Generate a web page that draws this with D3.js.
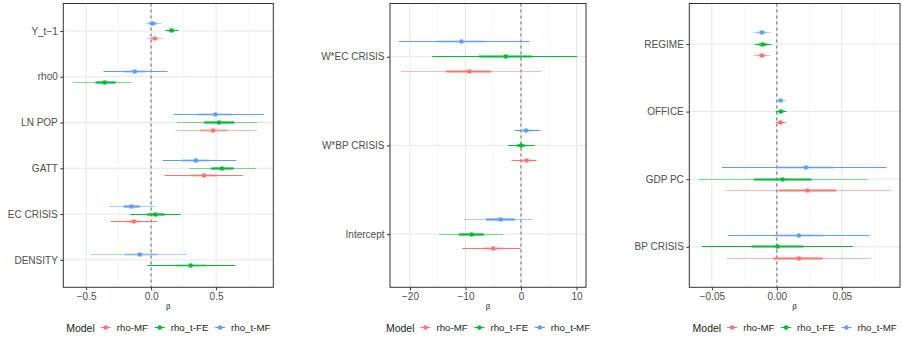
<!DOCTYPE html>
<html>
<head>
<meta charset="utf-8">
<script src="https://cdn.jsdelivr.net/npm/d3@7"></script>
<style>
  html, body { margin: 0; padding: 0; background: #fff; }
  svg { display: block; font-family: "Liberation Sans", Arial, Helvetica, sans-serif; }
</style>
</head>
<body>
<svg id="chart" width="903" height="341"></svg>
<script>
// Models, in legend order
const models = ["rho-MF", "rho_t-FE", "rho_t-MF"];
const modelColors = ["#F8766D", "#00BA38", "#619CFF"];

// Each estimate: [beta, innerLo, innerHi, outerLo, outerHi]; null = term not in that model
const termsA = ["Y_t-1", "rho0", "LN POP", "GATT", "EC CRISIS", "DENSITY"];
const rhoMF_A = [
  [0.028, 0.0, 0.055, -0.03, 0.088],
  null,
  [0.477, 0.375, 0.59, 0.19, 0.815],
  [0.408, 0.305, 0.508, 0.103, 0.705],
  [-0.133, -0.195, -0.072, -0.312, 0.046],
  null
];
const rhoTFE_A = [
  [0.157, 0.135, 0.18, 0.11, 0.21],
  [-0.358, -0.428, -0.272, -0.602, -0.148],
  [0.523, 0.408, 0.641, 0.2, 0.818],
  [0.546, 0.462, 0.634, 0.295, 0.808],
  [0.034, -0.033, 0.103, -0.161, 0.228],
  [0.305, 0.19, 0.426, -0.028, 0.649]
];
const rhoTMF_A = [
  [0.013, -0.015, 0.04, -0.04, 0.08],
  [-0.125, -0.207, -0.043, -0.366, 0.126],
  [0.495, 0.349, 0.623, 0.175, 0.867],
  [0.344, 0.24, 0.446, 0.088, 0.654],
  [-0.151, -0.21, -0.087, -0.323, 0.031],
  [-0.087, -0.202, 0.044, -0.464, 0.28]
];
const ticksA = [-0.5, 0, 0.5];

const termsB = ["W*EC CRISIS", "W*BP CRISIS", "Intercept"];
const rhoMF_B = [
  [-9.3, -13.5, -5.4, -21.7, 3.6],
  [1.0, -0.3, 2.1, -1.7, 2.8],
  [-5.0, -6.7, -3.2, -10.6, -0.1]
];
const rhoTFE_B = [
  [-2.76, -7.6, 2.0, -16.0, 10.1],
  [0.0, -0.8, 0.8, -2.3, 2.5],
  [-8.9, -11.2, -6.7, -14.7, -3.2]
];
const rhoTMF_B = [
  [-10.75, -15.0, -6.5, -22.0, 1.5],
  [0.9, -0.3, 2.1, -1.1, 3.5],
  [-3.7, -6.3, -1.1, -10.2, 2.1]
];
const ticksB = [-20, -10, 0, 10];

const termsC = ["REGIME", "OFFICE", "GDP PC", "BP CRISIS"];
const rhoMF_C = [
  [-0.0115, -0.015, -0.008, -0.018, -0.0051],
  [0.0028, 0.001, 0.0047, -0.0008, 0.0067],
  [0.0236, 0.0015, 0.0456, -0.0397, 0.0874],
  [0.0169, -0.0026, 0.0354, -0.0387, 0.0723]
];
const rhoTFE_C = [
  [-0.0108, -0.014, -0.0075, -0.0169, -0.0041],
  [0.0031, 0.0012, 0.0052, -0.0008, 0.0074],
  [0.0044, -0.0177, 0.0267, -0.06, 0.0695],
  [0.0005, -0.0192, 0.0205, -0.0577, 0.0587]
];
const rhoTMF_C = [
  [-0.0115, -0.015, -0.008, -0.018, -0.0049],
  [0.0028, 0.001, 0.0047, -0.0008, 0.0067],
  [0.0223, 0.0, 0.0441, -0.0423, 0.0844],
  [0.0169, -0.0018, 0.0354, -0.0377, 0.0713]
];
const ticksC = [-0.05, 0, 0.05];

// Segment shading: first letter = outer whisker, second = inner bar (D dark, L light)
const shading = {
  "Y_t-1|rho-MF": "LL", "Y_t-1|rho_t-FE": "DD", "Y_t-1|rho_t-MF": "LD",
  "rho0|rho_t-FE": "LD", "rho0|rho_t-MF": "DL",
  "LN POP|rho-MF": "LL", "LN POP|rho_t-FE": "LD", "LN POP|rho_t-MF": "DL",
  "GATT|rho-MF": "DL", "GATT|rho_t-FE": "LD", "GATT|rho_t-MF": "DL",
  "EC CRISIS|rho-MF": "DL", "EC CRISIS|rho_t-FE": "DD", "EC CRISIS|rho_t-MF": "LD",
  "DENSITY|rho_t-FE": "DL", "DENSITY|rho_t-MF": "LL",
  "W*EC CRISIS|rho-MF": "LD", "W*EC CRISIS|rho_t-FE": "DD", "W*EC CRISIS|rho_t-MF": "DL",
  "W*BP CRISIS|rho-MF": "DL", "W*BP CRISIS|rho_t-FE": "DD", "W*BP CRISIS|rho_t-MF": "DL",
  "Intercept|rho-MF": "DL", "Intercept|rho_t-FE": "LD", "Intercept|rho_t-MF": "LD",
  "REGIME|rho-MF": "LL", "REGIME|rho_t-FE": "DD", "REGIME|rho_t-MF": "LL",
  "OFFICE|rho-MF": "DD", "OFFICE|rho_t-FE": "DD", "OFFICE|rho_t-MF": "LL",
  "GDP PC|rho-MF": "LD", "GDP PC|rho_t-FE": "LD", "GDP PC|rho_t-MF": "DL",
  "BP CRISIS|rho-MF": "LD", "BP CRISIS|rho_t-FE": "DD", "BP CRISIS|rho_t-MF": "DL"
};

const panels = [
  { terms: termsA, series: [rhoMF_A, rhoTFE_A, rhoTMF_A], ticks: ticksA, fmt: d3.format(".1f"), x0: 63.3, x1: 273.3 },
  { terms: termsB, series: [rhoMF_B, rhoTFE_B, rhoTMF_B], ticks: ticksB, fmt: d3.format("d"),   x0: 390,  x1: 586 },
  { terms: termsC, series: [rhoMF_C, rhoTFE_C, rhoTMF_C], ticks: ticksC, fmt: d3.format(".2f"), x0: 689.3, x1: 900 }
];

const plotTop = 3.5, plotBottom = 287.3;
const svg = d3.select("#chart");
const textCol = "#4d4d4d", frameCol = "#333333";

panels.forEach(p => {
  // x domain: data range expanded by 5% on each side
  const all = [];
  p.series.forEach(s => s.forEach(r => { if (r) all.push(r[3], r[4]); }));
  const [mn, mx] = d3.extent(all);
  const pad = (mx - mn) * 0.05;
  const x = d3.scaleLinear().domain([mn - pad, mx + pad]).range([p.x0, p.x1]);
  const y = d3.scalePoint().domain(p.terms).range([plotTop, plotBottom]).padding(0.6);
  const step = y.step();

  const g = svg.append("g");
  g.append("rect").attr("x", p.x0).attr("y", plotTop)
    .attr("width", p.x1 - p.x0).attr("height", plotBottom - plotTop).attr("fill", "#fff");

  // minor grid halfway between major ticks
  const tstep = p.ticks[1] - p.ticks[0];
  const minor = [];
  for (let v = p.ticks[0] - tstep / 2; v <= x.domain()[1]; v += tstep) {
    if (v >= x.domain()[0]) minor.push(v);
  }
  g.selectAll(".gmin").data(minor).join("line")
    .attr("x1", d => x(d)).attr("x2", d => x(d)).attr("y1", plotTop).attr("y2", plotBottom)
    .attr("stroke", "#f0f0f0").attr("stroke-width", 0.6);
  g.selectAll(".gmaj").data(p.ticks).join("line")
    .attr("x1", d => x(d)).attr("x2", d => x(d)).attr("y1", plotTop).attr("y2", plotBottom)
    .attr("stroke", "#e6e6e6").attr("stroke-width", 1);
  g.selectAll(".gy").data(p.terms).join("line")
    .attr("x1", p.x0).attr("x2", p.x1).attr("y1", d => y(d)).attr("y2", d => y(d))
    .attr("stroke", "#e6e6e6").attr("stroke-width", 1);

  // zero reference
  g.append("line").attr("x1", x(0)).attr("x2", x(0)).attr("y1", plotTop).attr("y2", plotBottom)
    .attr("stroke", "#666").attr("stroke-width", 1).attr("stroke-dasharray", "3,3");

  // estimates, dodged within each term (snapped to pixel rows for crisp whiskers)
  const rows = [];
  p.terms.forEach((t, i) => {
    const present = [2, 1, 0].filter(m => p.series[m][i]);
    const n = present.length;
    present.forEach((m, k) => {
      const r = p.series[m][i];
      const off = (k - (n - 1) / 2) * (0.5 / n) * step;
      rows.push({ term: t, model: models[m], color: modelColors[m],
        yy: Math.floor(y(t) + off) + 0.5,
        est: r[0], ilo: r[1], ihi: r[2], lo: r[3], hi: r[4],
        shade: shading[t + "|" + models[m]] || "DD" });
    });
  });
  const op = c => c === "L" ? 0.5 : 1;
  const eg = g.selectAll(".est").data(rows).join("g");
  eg.append("line").attr("x1", d => x(d.lo)).attr("x2", d => x(d.hi))
    .attr("y1", d => d.yy).attr("y2", d => d.yy)
    .attr("stroke", d => d.color).attr("stroke-width", 1).attr("stroke-opacity", d => op(d.shade[0]));
  eg.append("line").attr("x1", d => x(d.ilo)).attr("x2", d => x(d.ihi))
    .attr("y1", d => d.yy).attr("y2", d => d.yy)
    .attr("stroke", d => d.color).attr("stroke-width", 2.2).attr("stroke-opacity", d => op(d.shade[1]));
  eg.append("circle").attr("cx", d => x(d.est)).attr("cy", d => d.yy).attr("r", 2.3)
    .attr("fill", d => d.color);

  // frame
  g.append("rect").attr("x", p.x0).attr("y", plotTop)
    .attr("width", p.x1 - p.x0).attr("height", plotBottom - plotTop)
    .attr("fill", "none").attr("stroke", frameCol).attr("stroke-width", 1);

  // axes
  const xa = g.append("g").attr("transform", `translate(0,${plotBottom})`)
    .call(d3.axisBottom(x).tickValues(p.ticks).tickFormat(p.fmt).tickSize(3).tickPadding(2.5));
  xa.select(".domain").remove();
  xa.selectAll("line").attr("stroke", frameCol);
  xa.selectAll("text").attr("fill", textCol).attr("font-size", 10)
    .attr("font-family", "Liberation Sans, Arial, sans-serif");

  const ya = g.append("g").attr("transform", `translate(${p.x0},0)`)
    .call(d3.axisLeft(y).tickSize(3).tickPadding(2.5));
  ya.select(".domain").remove();
  ya.selectAll("line").attr("stroke", frameCol);
  ya.selectAll("text").attr("fill", textCol).attr("font-size", 10)
    .attr("font-family", "Liberation Sans, Arial, sans-serif")
    .text(d => d.replace("-", "\u2212"));

  const cx = (p.x0 + p.x1) / 2;
  g.append("text").attr("x", cx).attr("y", 308.5).attr("text-anchor", "middle")
    .attr("font-size", 8).attr("fill", "#222").text("\u03b2");

  // legend, centred under the panel
  const lg = g.append("g").attr("font-size", 9.7);
  const title = lg.append("text").attr("y", 331.5).attr("fill", "#222").attr("font-size", 10.5).text("Model");
  let cur = title.node().getComputedTextLength() + 6;
  models.forEach((m, i) => {
    lg.append("line").attr("x1", cur).attr("x2", cur + 10).attr("y1", 327.5).attr("y2", 327.5)
      .attr("stroke", modelColors[i]).attr("stroke-width", 1);
    lg.append("circle").attr("cx", cur + 5).attr("cy", 327.5).attr("r", 2.3).attr("fill", modelColors[i]);
    const t = lg.append("text").attr("x", cur + 16).attr("y", 331.2).attr("fill", "#222").text(m);
    cur += 16 + t.node().getComputedTextLength() + 6.7;
  });
  const w = cur - 6.7;
  lg.attr("transform", `translate(${cx - w / 2},0)`);
});
</script>
</body>
</html>
